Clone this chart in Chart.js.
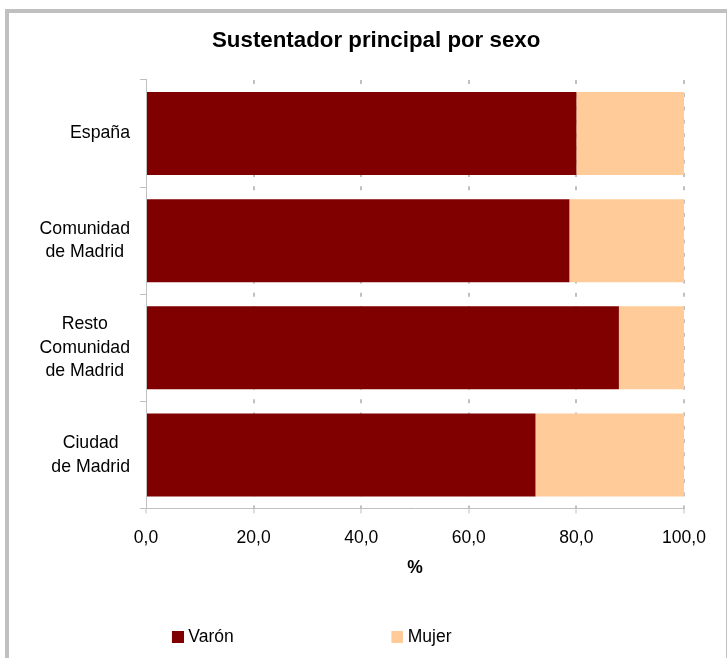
<!DOCTYPE html>
<html>
<head>
<meta charset="utf-8">
<script src="https://cdn.jsdelivr.net/npm/chart.js@4/dist/chart.umd.min.js"></script>
<style>
  html, body { margin: 0; padding: 0; background: #ffffff; overflow: hidden; width: 727px; height: 658px; }
  #frame { position: absolute; left: 5px; top: 9px; width: 725px; height: 1000px; box-sizing: border-box; border: 4px solid #c0c0c0; background: #ffffff; }
  #c { position: absolute; left: 0; top: 0; }
</style>
</head>
<body>
<div id="frame"></div>
<canvas id="c" width="738" height="658"></canvas>
<script>
const chartTitle = 'Sustentador principal por sexo';
const categories = [
  'España',
  ['Comunidad', 'de Madrid'],
  ['Resto', 'Comunidad', 'de Madrid'],
  ['Ciudad', 'de Madrid']
];
const seriesNames = ['Varón', 'Mujer'];
const seriesColors = ['#800000', '#FFCC99'];
const varon = [80.0, 78.7, 87.9, 72.4];
const mujer = [20.0, 21.3, 12.1, 27.6];
const xTickLabels = ['0,0', '20,0', '40,0', '60,0', '80,0', '100,0'];
const xAxisTitle = '%';

Chart.defaults.font.family = "'Liberation Sans', Arial, Helvetica, sans-serif";
Chart.defaults.color = '#000000';

function makeSwatch(color) {
  const cv = document.createElement('canvas');
  cv.width = 164;
  cv.height = 12;
  const g = cv.getContext('2d');
  g.fillStyle = color;
  g.fillRect(152, 0, 12, 12);
  return cv;
}

// Category labels: each block right-aligned to the axis, lines centred within the block
const blockLabelAlign = {
  id: 'blockLabelAlign',
  beforeDraw(chart) {
    const s = chart.scales.y;
    if (!s) return;
    const items = s.getLabelItems();
    const ctx = chart.ctx;
    const edge = s.right - s.options.grid.tickLength - s.options.ticks.padding;
    items.forEach((it) => {
      ctx.save();
      ctx.font = it.font.string;
      const lines = Array.isArray(it.label) ? it.label : [it.label];
      const w = Math.max(...lines.map((l) => ctx.measureText(l).width));
      ctx.restore();
      it.options.translation[0] = edge - w / 2;
      it.options.textAlign = 'center';
    });
  }
};

new Chart(document.getElementById('c'), {
  type: 'bar',
  data: {
    labels: categories,
    datasets: [
      { label: seriesNames[0], data: varon, backgroundColor: seriesColors[0], borderWidth: 0, barPercentage: 0.775, categoryPercentage: 1 },
      { label: seriesNames[1], data: mujer, backgroundColor: seriesColors[1], borderWidth: 0, barPercentage: 0.775, categoryPercentage: 1 }
    ]
  },
  plugins: [blockLabelAlign],
  options: {
    indexAxis: 'y',
    responsive: false,
    animation: false,
    devicePixelRatio: 1,
    layout: { padding: { top: 0, left: 14.3, right: 0, bottom: 1.9 } },
    scales: {
      x: {
        stacked: true,
        min: 0,
        max: 100,
        ticks: {
          stepSize: 20,
          padding: 14,
          color: '#000000',
          font: { size: 17.5 },
          maxRotation: 0,
          callback: (v, i) => xTickLabels[i]
        },
        grid: {
          color: (ctx) => (ctx.tick && ctx.tick.value === 0) ? 'rgba(0,0,0,0)' : '#c0c0c0',
          lineWidth: 2,
          tickLength: 5,
          tickColor: '#c0c0c0',
          tickWidth: 1,
          tickBorderDash: []
        },
        border: { color: '#c0c0c0', width: 1, dash: [4, 9.3] },
        title: {
          display: true,
          text: xAxisTitle,
          color: '#000000',
          font: { size: 17.5, weight: 'bold' },
          padding: { top: 0, bottom: 40 }
        },
        afterFit: (s) => { s.height = 110.1; }
      },
      y: {
        stacked: true,
        grid: { drawOnChartArea: false, drawTicks: true, tickLength: 6, color: '#c0c0c0', lineWidth: 1, offset: true },
        border: { color: '#c0c0c0', width: 1 },
        ticks: { crossAlign: 'center', padding: 10, color: '#000000', font: { size: 17.7, lineHeight: 1.33 } },
        afterFit: (s) => { s.width = 131.7; }
      },
      y2: {
        type: 'category',
        position: 'right',
        display: true,
        grid: { display: false, drawTicks: false },
        border: { display: false },
        ticks: { display: false },
        afterFit: (s) => { s.width = 54; }
      }
    },
    plugins: {
      title: {
        display: true,
        text: chartTitle,
        color: '#000000',
        font: { size: 22.3, weight: 'bold' },
        padding: { top: 27.6, bottom: 25.6 }
      },
      legend: {
        display: true,
        position: 'bottom',
        align: 'start',
        labels: {
          usePointStyle: true,
          pointStyleWidth: 155.25,
          padding: 10,
          color: '#000000',
          font: { size: 17.5 },
          generateLabels: (chart) => chart.data.datasets.map((ds, i) => ({
            text: ds.label,
            fillStyle: ds.backgroundColor,
            strokeStyle: ds.backgroundColor,
            lineWidth: 0,
            pointStyle: makeSwatch(ds.backgroundColor),
            fontColor: '#000000',
            hidden: !chart.isDatasetVisible(i),
            datasetIndex: i
          }))
        }
      },
      tooltip: { enabled: false }
    }
  }
});
</script>
</body>
</html>
